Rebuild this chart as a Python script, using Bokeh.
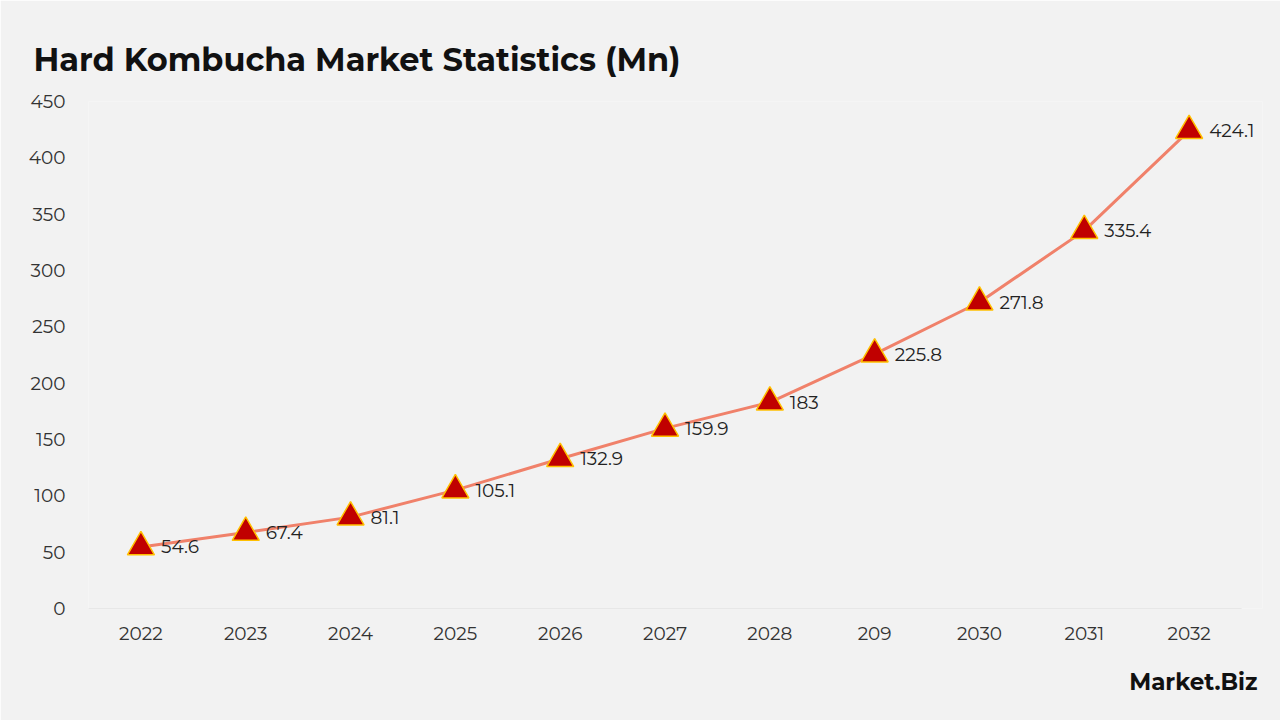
from bokeh.plotting import figure
from bokeh.models import ColumnDataSource, FixedTicker, Range1d, LabelSet, Title
from bokeh.core.properties import value
from bokeh.embed import file_html
from bokeh.resources import INLINE

years = ["2022", "2023", "2024", "2025", "2026", "2027", "2028", "209", "2030", "2031", "2032"]
values = [54.6, 67.4, 81.1, 105.1, 132.9, 159.9, 183, 225.8, 271.8, 335.4, 424.1]
value_labels = ["54.6", "67.4", "81.1", "105.1", "132.9", "159.9", "183", "225.8", "271.8", "335.4", "424.1"]
y_ticks = [0, 50, 100, 150, 200, 250, 300, 350, 400, 450]

FONT = "Montserrat"
BG = "#f2f2f2"

pos = list(range(len(years)))
src = ColumnDataSource(dict(x=pos, y=values, lab=value_labels))

# extra room on the right keeps the last value label inside the frame
p = figure(width=1280, height=720, x_range=Range1d(-0.5, len(years) - 0.5 + 0.2), y_range=Range1d(0, 450),
           output_backend="svg", toolbar_location=None,
           background_fill_color=BG, border_fill_color=BG,
           min_border_left=88, min_border_right=18, min_border_top=101, min_border_bottom=112)
p.outline_line_color = None
p.grid.grid_line_color = None

p.title.text = "Hard Kombucha Market Statistics (Mn)"
p.title.text_font = FONT
p.title.text_font_size = "32px"
p.title.text_font_style = "bold"
p.title.text_color = "#111111"
p.title.align = "left"
p.title.offset = -55
p.title.standoff = 46

p.yaxis.ticker = FixedTicker(ticks=y_ticks)
p.yaxis.axis_line_color = None
p.yaxis.major_tick_line_color = None
p.yaxis.minor_tick_line_color = None
p.yaxis.major_label_standoff = 17
p.yaxis.major_label_text_font_size = "18.5px"
p.yaxis.major_label_text_color = "#333333"
p.yaxis.major_label_text_font = FONT

p.xaxis.ticker = FixedTicker(ticks=pos)
p.xaxis.major_label_overrides = {i: y for i, y in zip(pos, years)}
p.xaxis.axis_line_color = None
p.xaxis.major_tick_line_color = None
p.xaxis.minor_tick_line_color = None
p.xaxis.major_label_standoff = 12
p.xaxis.major_label_text_font_size = "18.5px"
p.xaxis.major_label_text_color = "#333333"
p.xaxis.major_label_text_font = FONT

# baseline spanning the category bands
p.segment(x0=[-0.5], x1=[len(years) - 0.5], y0=[0], y1=[0], line_color="#d9d9d9", line_width=1)

p.line("x", "y", source=src, line_color="#f0816a", line_width=3)
p.scatter("x", "y", source=src, marker="triangle", size=27,
          fill_color="#c00000", line_color="#ffc000", line_width=1.5)

labels = LabelSet(x="x", y="y", text="lab", source=src, x_offset=20, y_offset=0,
                  text_font=value(FONT), text_font_size=value("18.5px"), text_color="#222222",
                  text_baseline="middle", text_align="left")
p.add_layout(labels)

brand = Title(text="Market.Biz", align="right", text_font=FONT, text_font_size="23px",
              text_font_style="bold", text_color="#111111", offset=5, standoff=46)
p.add_layout(brand, "below")

open("out.html", "w").write(file_html(p, INLINE))
